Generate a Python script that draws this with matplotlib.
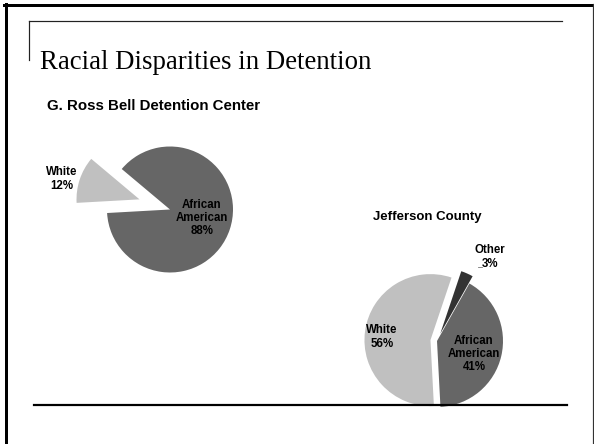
import matplotlib
matplotlib.use("Agg")
import matplotlib.pyplot as plt

# data
title = "Racial Disparities in Detention"
bell_title = "G. Ross Bell Detention Center"
bell_labels = ["White", "African\nAmerican"]
bell_values = [12, 88]
jeff_title = "Jefferson County"
jeff_labels = ["African\nAmerican", "Other", "White"]
jeff_values = [41, 3, 56]

W, H = 594, 444
fig = plt.figure(figsize=(W / 100, H / 100), dpi=100)
ax = fig.add_axes([0, 0, 1, 1])

def py(y):
    # pixel row (from top) -> data y
    return H - y

PT = 72 / 100  # px -> points

lab_font = dict(family=["Liberation Sans", "DejaVu Sans"], weight="bold",
                fontsize=8.3, ha="center", va="center", linespacing=1.15)

# pie 1 : G. Ross Bell  (explode is in data units -> scale by radius)
r1 = 63
bell_colors = ["#c0c0c0", "#666666"]
ax.pie(bell_values, colors=bell_colors, startangle=140,
       explode=[0.51 * r1, 0], center=(170, py(209.5)), radius=r1, frame=True,
       wedgeprops=dict(linewidth=0))
# pie 2 : Jefferson County
r2 = 66
jeff_colors = ["#666666", "#333333", "#c0c0c0"]
ax.pie(jeff_values, colors=jeff_colors, startangle=-87,
       explode=[0, 0.12 * r2, 0.1 * r2], center=(437, py(341)), radius=r2,
       frame=True, wedgeprops=dict(linewidth=0))

# slice labels
bell_pos = [(62, 179), (202, 218)]
for lab, v, (x, y) in zip(bell_labels, bell_values, bell_pos):
    ax.text(x, py(y), f"{lab}\n{v}%", **lab_font)
jeff_pos = [(474, 354), (490, 257), (382, 337)]
for lab, v, (x, y) in zip(jeff_labels, jeff_values, jeff_pos):
    ax.text(x, py(y), f"{lab}\n{v}%", **lab_font)
ax.plot([478, 482], [py(267), py(267)], color="#777777", lw=0.6)

# slide text
ax.text(40, py(69), title, family=["Liberation Serif", "DejaVu Serif"],
        fontsize=19.3, ha="left", va="baseline")
ax.text(47, py(106), bell_title, family=["Liberation Sans", "DejaVu Sans"],
        weight="bold", fontsize=10.8, ha="left", va="center")
ax.text(427, py(217), jeff_title, family=["Liberation Sans", "DejaVu Sans"],
        weight="bold", fontsize=9.5, ha="center", va="center")

# slide decoration
ax.plot([29, 562], [py(21), py(21)], color="#222222", lw=1.2 * PT)
ax.plot([29, 29], [py(21), py(60)], color="#222222", lw=1.2 * PT)
ax.plot([34, 567], [py(405), py(405)], color="black", lw=2.2 * PT, zorder=5)
# frame
ax.plot([4, 594], [py(5.5), py(5.5)], color="black", lw=3 * PT)
ax.plot([5.5, 5.5], [py(4), py(444)], color="black", lw=3 * PT)
ax.plot([592.5, 592.5], [py(4), py(444)], color="#333333", lw=1.2 * PT)

ax.set_xlim(0, W)
ax.set_ylim(0, H)
ax.axis("off")

fig.savefig("out.png", dpi=100)
